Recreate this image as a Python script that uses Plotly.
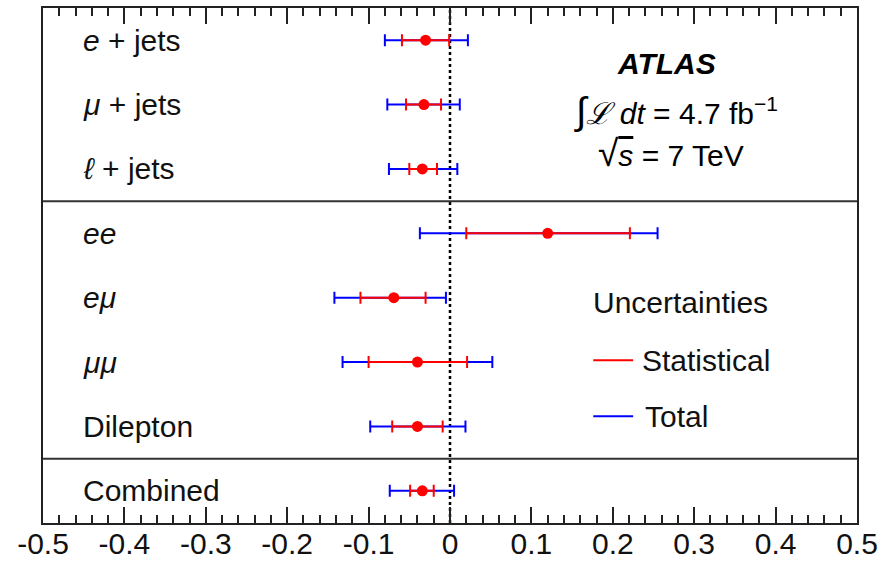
import plotly.graph_objects as go

labels = ["<i>e</i> + jets", "<i>μ</i> + jets", "<i>ℓ</i> + jets", "<i>ee</i>",
          "<i>eμ</i>", "<i>μμ</i>", "Dilepton", "Combined"]
rows = [0.5, 1.5, 2.5, 3.5, 4.5, 5.5, 6.5, 7.5]
central = [-0.030, -0.032, -0.034, 0.120, -0.069, -0.040, -0.040, -0.034]
stat_lo = [-0.059, -0.054, -0.050, 0.020, -0.110, -0.100, -0.071, -0.049]
stat_hi = [-0.001, -0.011, -0.016, 0.221, -0.030, 0.021, -0.009, -0.020]
tot_lo = [-0.080, -0.077, -0.075, -0.037, -0.142, -0.132, -0.098, -0.074]
tot_hi = [0.022, 0.012, 0.009, 0.255, -0.005, 0.052, 0.019, 0.005]
dividers = [3, 7]
xticks = [-0.5, -0.4, -0.3, -0.2, -0.1, 0, 0.1, 0.2, 0.3, 0.4, 0.5]
xticklabels = ["-0.5", "-0.4", "-0.3", "-0.2", "-0.1", "0", "0.1", "0.2", "0.3", "0.4", "0.5"]

RED = "#ff0000"
BLUE = "#0000ff"
FONT = "Liberation Sans, Arial, Helvetica, sans-serif"

fig = go.Figure()

fig.add_trace(go.Scatter(
    x=central, y=rows, mode="markers",
    marker=dict(size=1, color="rgba(0,0,0,0)"),
    error_x=dict(type="data", symmetric=False,
                 array=[h - c for h, c in zip(tot_hi, central)],
                 arrayminus=[c - l for l, c in zip(tot_lo, central)],
                 color=BLUE, thickness=2, width=6),
    showlegend=False, hoverinfo="skip"))

fig.add_trace(go.Scatter(
    x=central, y=rows, mode="markers",
    marker=dict(size=11, color=RED),
    error_x=dict(type="data", symmetric=False,
                 array=[h - c for h, c in zip(stat_hi, central)],
                 arrayminus=[c - l for l, c in zip(stat_lo, central)],
                 color=RED, thickness=2, width=6),
    showlegend=False))

# dotted line at zero
fig.add_shape(type="line", xref="x", yref="paper", x0=0, x1=0, y0=0, y1=1,
              line=dict(color="black", width=2.5, dash="dot"), layer="below")
for d in dividers:
    fig.add_shape(type="line", xref="paper", yref="y", x0=0, x1=1, y0=d, y1=d,
                  line=dict(color="#333333", width=2))

for lab, r in zip(labels, rows):
    fig.add_annotation(x=-0.453, y=r, xref="x", yref="y", text=lab, showarrow=False,
                       xanchor="left", yanchor="middle",
                       font=dict(family=FONT, size=30, color="#111111"))

fig.add_annotation(x=0.2655, y=0.86, xref="x", yref="y", text="<b><i>ATLAS</i></b>",
                   showarrow=False, xanchor="center", yanchor="middle",
                   font=dict(family=FONT, size=30, color="black"))
fig.add_annotation(x=0.278, y=1.60, xref="x", yref="y",
                   text="<span style='font-size:38px'>∫</span><i>ℒ dt</i> = 4.7 fb<sup>−1</sup>",
                   showarrow=False, xanchor="center", yanchor="middle",
                   font=dict(family=FONT, size=30, color="black"))
fig.add_annotation(x=0.271, y=2.26, xref="x", yref="y",
                   text="<span style='font-size:37px'>√</span><span style='text-decoration:overline'><i>s</i></span> = 7 TeV",
                   showarrow=False, xanchor="center", yanchor="middle",
                   font=dict(family=FONT, size=30, color="black"))

# legend
fig.add_annotation(x=0.173, y=4.58, xref="x", yref="y", text="Uncertainties",
                   showarrow=False, xanchor="left", yanchor="middle",
                   font=dict(family=FONT, size=30, color="#111111"))
fig.add_shape(type="line", xref="x", yref="y", x0=0.176, x1=0.225, y0=5.47, y1=5.47,
              line=dict(color=RED, width=2))
fig.add_annotation(x=0.234, y=5.47, xref="x", yref="y", text="Statistical",
                   showarrow=False, xanchor="left", yanchor="middle",
                   font=dict(family=FONT, size=30, color="#111111"))
fig.add_shape(type="line", xref="x", yref="y", x0=0.176, x1=0.225, y0=6.34, y1=6.34,
              line=dict(color=BLUE, width=2))
fig.add_annotation(x=0.237, y=6.34, xref="x", yref="y", text="Total",
                   showarrow=False, xanchor="left", yanchor="middle",
                   font=dict(family=FONT, size=30, color="#111111"))

fig.update_xaxes(range=[-0.5, 0.5], tickvals=xticks, ticktext=xticklabels,
                 ticks="inside", ticklen=16, tickwidth=1.5, tickcolor="#222222",
                 minor=dict(dtick=0.02, tick0=0, ticks="inside", ticklen=8,
                            tickwidth=1.5, tickcolor="#222222"),
                 showline=True, linecolor="#222222", linewidth=2, mirror="ticks",
                 showgrid=False, zeroline=False, automargin=False,
                 ticklabelstandoff=-7,
                 tickfont=dict(family=FONT, size=30, color="#111111"))
fig.update_yaxes(range=[8, 0], showticklabels=False, ticks="",
                 showline=True, linecolor="#222222", linewidth=2, mirror=True,
                 showgrid=False, zeroline=False, automargin=False)

fig.update_layout(width=882, height=578, margin=dict(l=43, r=25, t=8, b=55),
                  plot_bgcolor="white", paper_bgcolor="white")

fig.write_html("out.html", config={"displayModeBar": False},
               post_script="document.body.style.margin='0';document.body.style.overflow='hidden';")
